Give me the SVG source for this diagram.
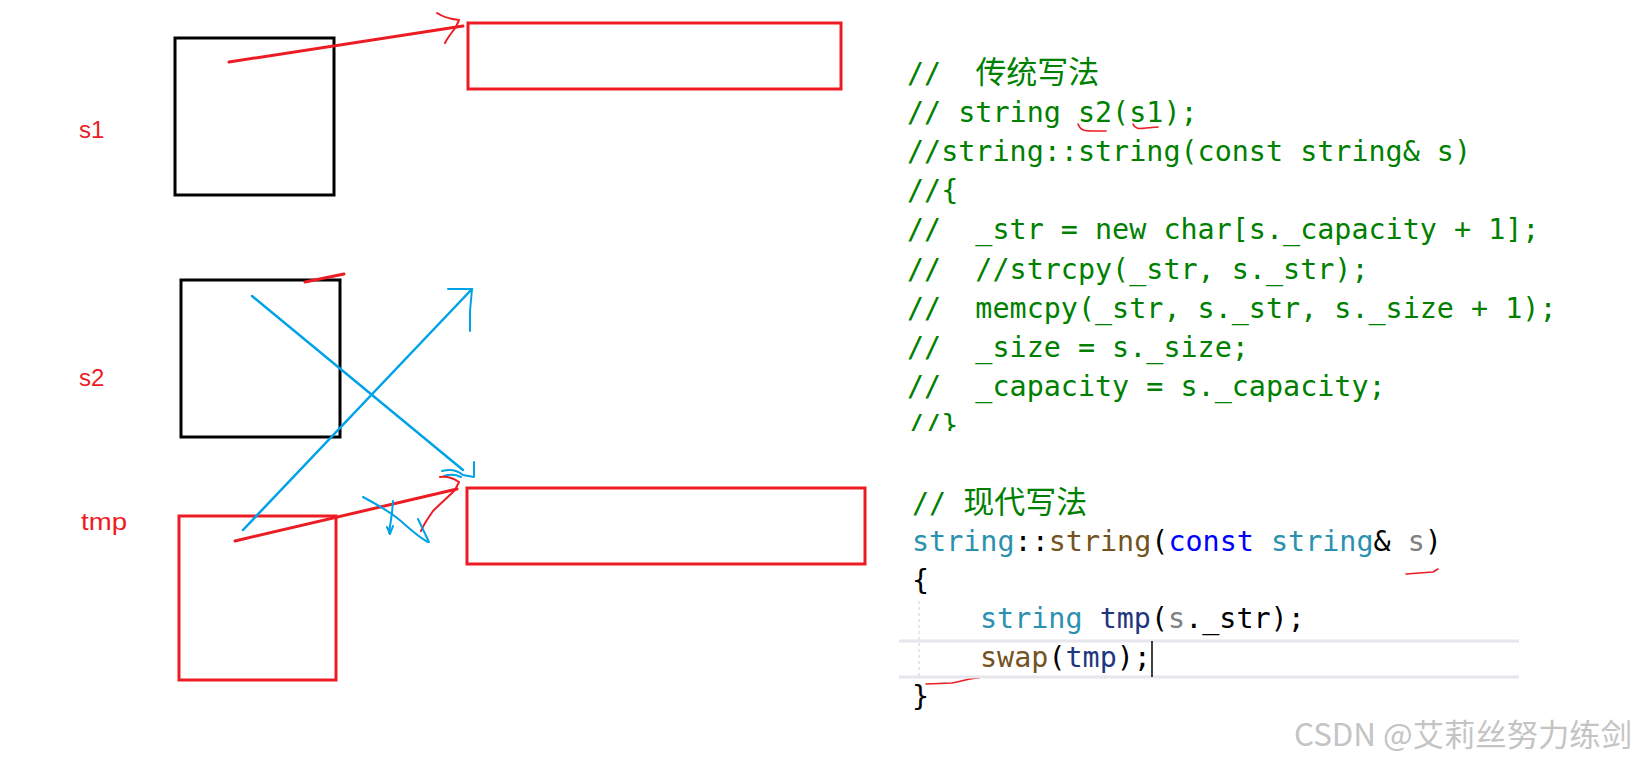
<svg xmlns="http://www.w3.org/2000/svg" width="1638" height="762" viewBox="0 0 1638 762">
<defs>
<style>
.lbl{font-family:"Liberation Sans","Noto Sans CJK SC",sans-serif;font-size:24px;fill:#ED1C24}
.box{fill:none;stroke:#000;stroke-width:3}
.rbox{fill:none;stroke:#ED1C24;stroke-width:3}
.red{fill:none;stroke:#ED1C24;stroke-width:3;stroke-linecap:round;stroke-linejoin:round}
.redt{fill:none;stroke:#ED1C24;stroke-width:2;stroke-linecap:round;stroke-linejoin:round}
.redf{fill:none;stroke:#ED1C24;stroke-width:1.6;stroke-linecap:round;stroke-linejoin:round}
.blue{fill:none;stroke:#00A2E8;stroke-width:2.5;stroke-linecap:round;stroke-linejoin:round}
.bluet{fill:none;stroke:#00A2E8;stroke-width:2;stroke-linecap:round;stroke-linejoin:round}
.code{font-family:"DejaVu Sans Mono","Liberation Mono",monospace;font-size:28.4px;white-space:pre}
.cm{fill:#008000}
.cjk{font-family:"Noto Sans CJK SC",sans-serif;font-size:31px}
.ty{fill:#2B91AF}
.fn{fill:#74531F}
.kw{fill:#0000FF}
.pm{fill:#808080}
.lv{fill:#1F377F}
.pu{fill:#000000}
.sep{stroke:#E6E6EC;stroke-width:3}
.wm{font-family:"Noto Sans CJK SC",sans-serif;font-size:31px;fill:#C4C4C4}
</style>
<clipPath id="clipTop"><rect x="880" y="0" width="758" height="431"/></clipPath>
</defs>
<rect x="0" y="0" width="1638" height="762" fill="#FFFFFF"/>

<g id="s1">
<text class="lbl" x="79" y="138">s1</text>
<rect class="box" x="175" y="38" width="159" height="157"/>
</g>
<g id="s2">
<text class="lbl" x="79" y="386">s2</text>
<rect class="box" x="181" y="280" width="159" height="157"/>
</g>
<g id="tmp">
<text class="lbl" x="81" y="530" textLength="46" lengthAdjust="spacingAndGlyphs">tmp</text>
<rect class="rbox" x="179" y="516" width="157" height="164"/>
</g>
<g id="buffer-top">
<rect class="rbox" x="468" y="23" width="373" height="66"/>
</g>
<g id="buffer-bottom">
<rect class="rbox" x="467" y="488" width="398" height="76"/>
</g>

<g id="connectors">
<path class="red" d="M229,62 L463,26"/>
<path class="redt" d="M437,13 C443,17 450,19 459,20 L456,27 C452,32 448,37 445,43"/>
<path class="red" d="M305,282 L344,274"/>
<path class="blue" d="M252,296 L463,470"/>
<path class="bluet" d="M474,462 L474,477 L463,475 C457,470 450,469 442,471"/>
<path class="bluet" d="M444,476 C450,474 455,474 461,477"/>
<path class="blue" d="M243,530 L472,289"/>
<path class="bluet" d="M448,289 L472,289 L470,311 L470,331"/>
<path class="red" d="M235,541 L457,489"/>
<path class="redt" d="M440,477 C447,476 453,478 459,482 L455,490 C448,497 440,504 433,511 C428,518 424,524 421,531"/>
<path class="bluet" d="M363,497 C378,505 392,513 402,522 C412,531 420,538 428,542"/>
<path class="bluet" d="M393,501 L392,513 L389,533 M387,527 L390,534 L393,526"/>
<path class="bluet" d="M418,519 L429,542"/>
</g>

<g id="code-traditional" clip-path="url(#clipTop)">
<text class="code cm" x="907" y="83">//  <tspan class="cjk">传统写法</tspan></text>
<text class="code cm" x="907" y="122">// string s2(s1);</text>
<text class="code cm" x="907" y="161">//string::string(const string&amp; s)</text>
<text class="code cm" x="907" y="200">//{</text>
<text class="code cm" x="907" y="239">//  _str = new char[s._capacity + 1];</text>
<text class="code cm" x="907" y="279">//  //strcpy(_str, s._str);</text>
<text class="code cm" x="907" y="318">//  memcpy(_str, s._str, s._size + 1);</text>
<text class="code cm" x="907" y="357">//  _size = s._size;</text>
<text class="code cm" x="907" y="396">//  _capacity = s._capacity;</text>
<text class="code cm" x="907" y="435">//}</text>
</g>
<g id="code-marks">
<path class="redf" d="M1078,124 C1080,130 1084,131 1092,131 L1106,131"/>
<path class="redf" d="M1133,124 C1135,129 1139,129 1146,128 L1158,127"/>
<path class="redf" d="M1406,574 L1433,572 L1438,569"/>
<path class="redf" d="M926,684 L952,683 C962,681 970,678 979,678"/>
</g>

<g id="code-modern">
<line class="sep" x1="899" y1="641" x2="1519" y2="641"/>
<line class="sep" x1="899" y1="677" x2="1519" y2="677"/>
<line x1="919" y1="601" x2="919" y2="677" stroke="#D0D0D0" stroke-width="1" stroke-dasharray="3,3"/>
<text class="code cm" x="912" y="513">// <tspan class="cjk">现代写法</tspan></text>
<text class="code" x="912" y="551"><tspan class="ty">string</tspan><tspan class="pu">::</tspan><tspan class="fn">string</tspan><tspan class="pu">(</tspan><tspan class="kw">const</tspan><tspan class="pu"> </tspan><tspan class="ty">string</tspan><tspan class="pu">&amp; </tspan><tspan class="pm">s</tspan><tspan class="pu">)</tspan></text>
<text class="code pu" x="912" y="590">{</text>
<text class="code" x="980" y="628"><tspan class="ty">string</tspan><tspan class="pu"> </tspan><tspan class="lv">tmp</tspan><tspan class="pu">(</tspan><tspan class="pm">s</tspan><tspan class="pu">._str);</tspan></text>
<text class="code" x="980" y="667"><tspan class="fn">swap</tspan><tspan class="pu">(</tspan><tspan class="lv">tmp</tspan><tspan class="pu">);</tspan></text>
<line x1="1152" y1="641" x2="1152" y2="677" stroke="#000" stroke-width="1.5"/>
<text class="code pu" x="912" y="706">}</text>
</g>

<g id="watermark">
<text class="wm" x="1294" y="746" textLength="338" lengthAdjust="spacingAndGlyphs">CSDN @艾莉丝努力练剑</text>
</g>
</svg>
